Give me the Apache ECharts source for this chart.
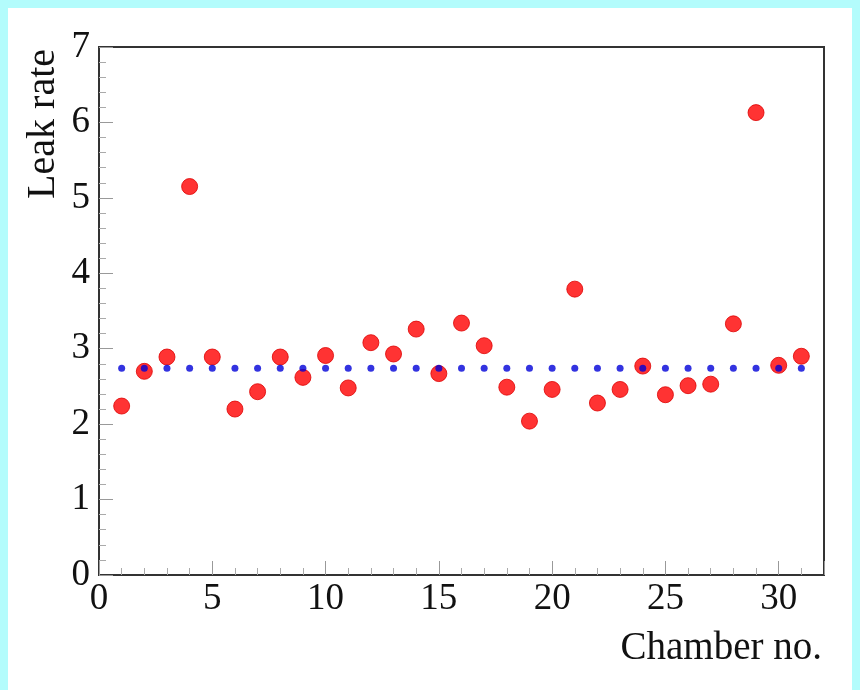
<!DOCTYPE html>
<html>
<head>
<meta charset="utf-8">
<script src="https://cdn.jsdelivr.net/npm/echarts@6/dist/echarts.min.js"></script>
<style>
  html, body { margin: 0; padding: 0; background: #ffffff; overflow: hidden; width: 860px; height: 690px; }
  .strip { position: absolute; background: #b3fcfc; }
  #chart { position: absolute; left: 0; top: 0; width: 860px; height: 690px; }
</style>
</head>
<body>
<div class="strip" style="left:0;top:0;width:860px;height:8px"></div>
<div class="strip" style="left:0;top:0;width:8px;height:690px"></div>
<div class="strip" style="left:852px;top:0;width:8px;height:690px"></div>
<div id="chart"></div>
<script>
const chambers = [1,2,3,4,5,6,7,8,9,10,11,12,13,14,15,16,17,18,19,20,21,22,23,24,25,26,27,28,29,30,31];
const leakRate = [2.24,2.70,2.89,5.15,2.89,2.20,2.43,2.89,2.62,2.91,2.48,3.08,2.93,3.26,2.67,3.34,3.04,2.49,2.04,2.46,3.79,2.28,2.46,2.77,2.39,2.51,2.53,3.33,6.13,2.78,2.90];
const meanRate = 2.74;
const xTicks = [0,5,10,15,20,25,30];
const yTicks = [0,1,2,3,4,5,6,7];

const chart = echarts.init(document.getElementById('chart'), null, {renderer: 'canvas'});
const font = 'Liberation Serif';
chart.setOption({
  backgroundColor: 'transparent',
  animation: false,
  grid: { left: 99, right: 36, top: 47, bottom: 115, show: true, borderColor: '#333', borderWidth: 2, backgroundColor: 'transparent' },
  xAxis: {
    type: 'value', min: 0, max: 32, interval: 5,
    name: 'Chamber no.', nameLocation: 'end', nameGap: 0,
    nameTextStyle: { fontFamily: font, fontSize: 39, color: '#111', align: 'right', verticalAlign: 'top', padding: [54, 2, 0, 0] },
    axisLine: { show: true, lineStyle: { color: '#333', width: 2 } },
    axisTick: { show: true, inside: true, length: 14, lineStyle: { color: '#999', width: 1 } },
    minorTick: { show: true, splitNumber: 5, length: 7, lineStyle: { color: '#aaa', width: 1 } },
    splitLine: { show: false },
    axisLabel: { fontFamily: font, fontSize: 37, color: '#111', margin: 6,
      formatter: v => xTicks.indexOf(v) >= 0 ? String(v) : '' }
  },
  yAxis: {
    type: 'value', min: 0, max: 7, interval: 1,
    name: 'Leak rate', nameLocation: 'end', nameGap: 0, nameRotate: 90,
    nameTextStyle: { fontFamily: font, fontSize: 40, color: '#111', align: 'right', verticalAlign: 'bottom', padding: [0, 2, 36, 0] },
    axisLine: { show: true, lineStyle: { color: '#333', width: 2 } },
    axisTick: { show: true, inside: true, length: 14, lineStyle: { color: '#999', width: 1 } },
    minorTick: { show: true, splitNumber: 5, length: 7, lineStyle: { color: '#aaa', width: 1 } },
    splitLine: { show: false },
    axisLabel: { fontFamily: font, fontSize: 37, color: '#111', margin: 9,
      formatter: v => yTicks.indexOf(v) >= 0 ? String(v) : '' }
  },
  series: [
    {
      type: 'scatter', symbol: 'circle', symbolSize: 16,
      itemStyle: { color: '#ff0000', borderColor: '#dd0000', borderWidth: 1 },
      data: chambers.map((c, i) => [c, leakRate[i]]),
      z: 2
    },
    {
      type: 'scatter', symbol: 'circle', symbolSize: 7,
      itemStyle: { color: '#0000d8' },
      data: chambers.map(c => [c, meanRate]),
      z: 3
    }
  ]
});
</script>
</body>
</html>
